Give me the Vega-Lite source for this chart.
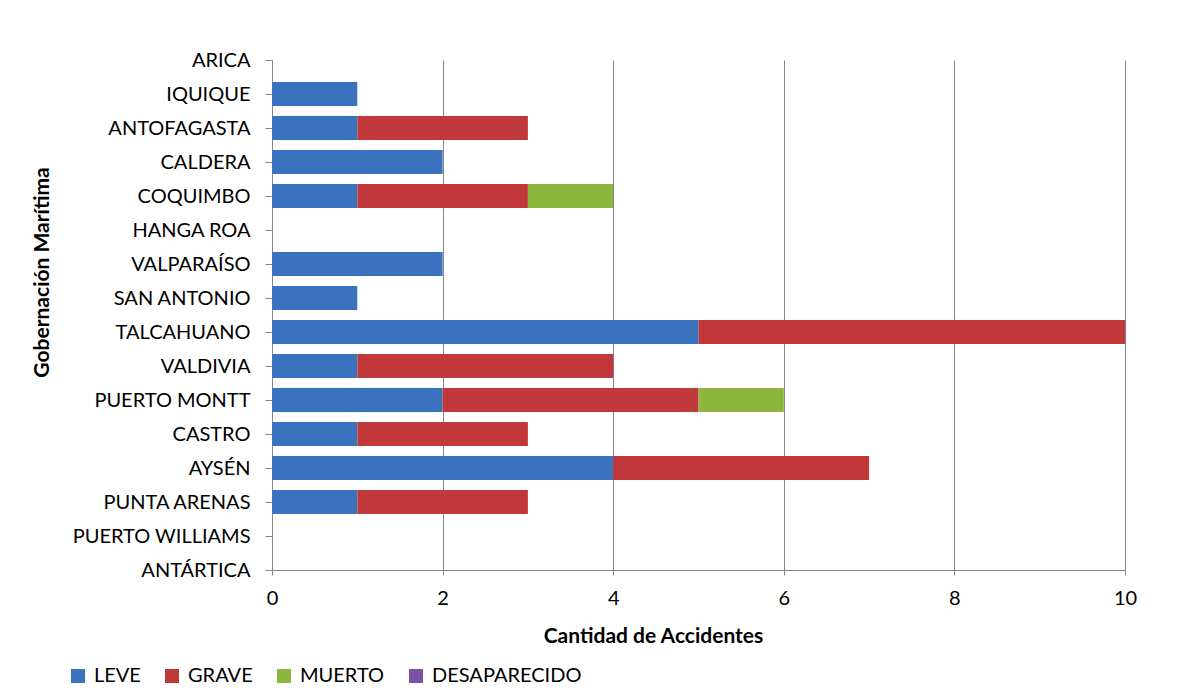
{
  "$schema": "https://vega.github.io/schema/vega-lite/v6.json",
  "width": 853,
  "height": 510,
  "autosize": "none",
  "padding": {"left": 272, "top": 60, "right": 54, "bottom": 130},
  "background": "white",
  "config": {"font": "Lato", "view": {"stroke": null}},
  "data": {
    "values": [
      {"gobernacion": "IQUIQUE", "tipo": "LEVE", "orden": 1, "cantidad": 1},
      {"gobernacion": "ANTOFAGASTA", "tipo": "LEVE", "orden": 1, "cantidad": 1},
      {"gobernacion": "ANTOFAGASTA", "tipo": "GRAVE", "orden": 2, "cantidad": 2},
      {"gobernacion": "CALDERA", "tipo": "LEVE", "orden": 1, "cantidad": 2},
      {"gobernacion": "COQUIMBO", "tipo": "LEVE", "orden": 1, "cantidad": 1},
      {"gobernacion": "COQUIMBO", "tipo": "GRAVE", "orden": 2, "cantidad": 2},
      {"gobernacion": "COQUIMBO", "tipo": "MUERTO", "orden": 3, "cantidad": 1},
      {"gobernacion": "VALPARAÍSO", "tipo": "LEVE", "orden": 1, "cantidad": 2},
      {"gobernacion": "SAN ANTONIO", "tipo": "LEVE", "orden": 1, "cantidad": 1},
      {"gobernacion": "TALCAHUANO", "tipo": "LEVE", "orden": 1, "cantidad": 5},
      {"gobernacion": "TALCAHUANO", "tipo": "GRAVE", "orden": 2, "cantidad": 5},
      {"gobernacion": "VALDIVIA", "tipo": "LEVE", "orden": 1, "cantidad": 1},
      {"gobernacion": "VALDIVIA", "tipo": "GRAVE", "orden": 2, "cantidad": 3},
      {"gobernacion": "PUERTO MONTT", "tipo": "LEVE", "orden": 1, "cantidad": 2},
      {"gobernacion": "PUERTO MONTT", "tipo": "GRAVE", "orden": 2, "cantidad": 3},
      {"gobernacion": "PUERTO MONTT", "tipo": "MUERTO", "orden": 3, "cantidad": 1},
      {"gobernacion": "CASTRO", "tipo": "LEVE", "orden": 1, "cantidad": 1},
      {"gobernacion": "CASTRO", "tipo": "GRAVE", "orden": 2, "cantidad": 2},
      {"gobernacion": "AYSÉN", "tipo": "LEVE", "orden": 1, "cantidad": 4},
      {"gobernacion": "AYSÉN", "tipo": "GRAVE", "orden": 2, "cantidad": 3},
      {"gobernacion": "PUNTA ARENAS", "tipo": "LEVE", "orden": 1, "cantidad": 1},
      {"gobernacion": "PUNTA ARENAS", "tipo": "GRAVE", "orden": 2, "cantidad": 2}
    ]
  },
  "mark": {"type": "bar", "size": 24},
  "encoding": {
    "y": {
      "field": "gobernacion",
      "type": "nominal",
      "scale": {
        "type": "point",
        "padding": 0,
        "domain": ["ARICA", "IQUIQUE", "ANTOFAGASTA", "CALDERA", "COQUIMBO", "HANGA ROA", "VALPARAÍSO", "SAN ANTONIO", "TALCAHUANO", "VALDIVIA", "PUERTO MONTT", "CASTRO", "AYSÉN", "PUNTA ARENAS", "PUERTO WILLIAMS", "ANTÁRTICA"]
      },
      "axis": {
        "title": "Gobernación Marítima",
        "titleFontSize": 21,
        "titleFontWeight": "bold",
        "titleColor": "black",
        "titleAngle": -90,
        "titleX": -230,
        "titleY": 212,
        "titleAlign": "center",
        "titleBaseline": "middle",
        "labelFontSize": 20,
        "labelColor": "black",
        "labelPadding": 15,
        "tickSize": 7,
        "tickColor": "#868686",
        "domainColor": "#868686",
        "grid": false
      }
    },
    "x": {
      "field": "cantidad",
      "type": "quantitative",
      "stack": "zero",
      "scale": {"domain": [0, 10], "nice": false},
      "axis": {
        "title": "Cantidad de Accidentes",
        "titleFontSize": 21,
        "titleFontWeight": "bold",
        "titleColor": "black",
        "titleX": 381,
        "titleY": 66,
        "titleBaseline": "middle",
        "values": [0, 2, 4, 6, 8, 10],
        "labelFlush": false,
        "labelFontSize": 20,
        "labelColor": "black",
        "labelPadding": 13,
        "tickSize": 5,
        "tickColor": "#868686",
        "domainColor": "#868686",
        "grid": true,
        "gridColor": "#868686"
      }
    },
    "color": {
      "field": "tipo",
      "type": "nominal",
      "scale": {
        "domain": ["LEVE", "GRAVE", "MUERTO", "DESAPARECIDO"],
        "range": ["#3a72bd", "#c0383a", "#8db63f", "#7854a3"]
      },
      "legend": {
        "title": null,
        "orient": "none",
        "direction": "horizontal",
        "legendX": -204,
        "legendY": 606,
        "symbolType": "square",
        "symbolSize": 196,
        "symbolStrokeWidth": 0,
        "labelFontSize": 20,
        "labelColor": "black",
        "labelOffset": 6,
        "columnPadding": 21
      }
    },
    "order": {"field": "orden", "type": "quantitative"}
  }
}
